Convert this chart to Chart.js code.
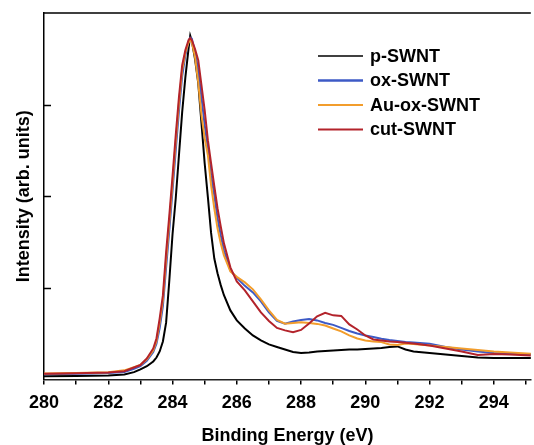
<!DOCTYPE html>
<html>
<head>
<meta charset="utf-8">
<script src="https://cdn.jsdelivr.net/npm/chart.js@4.4.1/dist/chart.umd.min.js"></script>
<style>
  html, body { margin: 0; padding: 0; background: #fff; }
  #wrap { width: 534px; height: 445px; position: relative; }
</style>
</head>
<body>
<div id="wrap"><canvas id="xps"></canvas></div>
<script>
// C 1s XPS spectra
const energy = [280, 281, 282, 282.5, 282.8, 283.0, 283.2, 283.4, 283.5, 283.6,
  283.7, 283.8, 283.9, 284.0, 284.1, 284.2, 284.3, 284.4, 284.5, 284.55,
  284.6, 284.7, 284.8, 284.9, 285.0, 285.1, 285.2, 285.3, 285.4, 285.5,
  285.6, 285.8, 286.0, 286.25, 286.5, 286.75, 287.0, 287.25, 287.5, 287.75,
  288.0, 288.25, 288.5, 288.75, 289.0, 289.25, 289.5, 289.75, 290.0, 290.25,
  290.5, 290.75, 291.0, 291.25, 291.5, 292.0, 292.5, 293.0, 293.5, 294.0,
  294.5, 295.2];

const pSWNT = [0.036, 0.038, 0.044, 0.055, 0.08, 0.11, 0.145, 0.197, 0.24, 0.306,
  0.415, 0.62, 1.08, 1.585, 1.978, 2.448, 2.918, 3.30, 3.617, 3.752,
  3.694, 3.497, 3.235, 2.80, 2.36, 1.99, 1.60, 1.32, 1.16, 1.03,
  0.92, 0.754, 0.645, 0.557, 0.481, 0.426, 0.383, 0.355, 0.328, 0.30,
  0.29, 0.295, 0.306, 0.311, 0.317, 0.322, 0.328, 0.328, 0.333, 0.339,
  0.344, 0.355, 0.361, 0.328, 0.306, 0.29, 0.273, 0.257, 0.24, 0.235,
  0.235, 0.235];

const oxSWNT = [0.058, 0.062, 0.07, 0.082, 0.118, 0.145, 0.205, 0.30, 0.39, 0.56,
  0.80, 1.22, 1.63, 2.06, 2.50, 2.93, 3.31, 3.54, 3.69, 3.73,
  3.72, 3.574, 3.377, 3.082, 2.776, 2.525, 2.23, 2.011, 1.76, 1.574,
  1.41, 1.19, 1.109, 1.022, 0.951, 0.852, 0.732, 0.639, 0.609, 0.634,
  0.65, 0.661, 0.645, 0.617, 0.596, 0.563, 0.53, 0.503, 0.481, 0.464,
  0.445, 0.432, 0.421, 0.41, 0.404, 0.39, 0.355, 0.328, 0.306, 0.29,
  0.281, 0.279];

const auOxSWNT = [0.065, 0.07, 0.08, 0.10, 0.135, 0.16, 0.22, 0.32, 0.42, 0.62,
  0.87, 1.31, 1.72, 2.15, 2.60, 3.02, 3.38, 3.57, 3.68, 3.70,
  3.683, 3.519, 3.246, 2.885, 2.634, 2.448, 2.12, 1.869, 1.65, 1.486,
  1.355, 1.18, 1.12, 1.06, 0.984, 0.874, 0.754, 0.65, 0.609, 0.617,
  0.626, 0.617, 0.607, 0.59, 0.557, 0.525, 0.481, 0.448, 0.426, 0.415,
  0.408, 0.383, 0.377, 0.393, 0.388, 0.372, 0.355, 0.339, 0.322, 0.306,
  0.295, 0.281];

const cutSWNT = [0.062, 0.067, 0.076, 0.09, 0.131, 0.158, 0.23, 0.339, 0.448, 0.667,
  0.918, 1.388, 1.792, 2.219, 2.667, 3.082, 3.432, 3.596, 3.705, 3.727,
  3.705, 3.607, 3.486, 3.213, 2.94, 2.612, 2.36, 2.109, 1.869, 1.672,
  1.486, 1.224, 1.071, 0.973, 0.852, 0.732, 0.639, 0.563, 0.536, 0.517,
  0.541, 0.612, 0.689, 0.727, 0.70, 0.694, 0.601, 0.546, 0.481, 0.437,
  0.426, 0.415, 0.408, 0.401, 0.393, 0.372, 0.339, 0.306, 0.268, 0.279,
  0.273, 0.262];

const xTicks = [280, 282, 284, 286, 288, 290, 292, 294];
const yTicks = [1, 2, 3];

const FONT = '"Liberation Sans", Arial, Helvetica, sans-serif';

function pts(ys) {
  return energy.map((e, i) => ({ x: e, y: ys[i] }));
}

// legend drawn inside the plot area
const insideLegend = {
  id: 'insideLegend',
  afterDatasetsDraw(chart) {
    const ctx = chart.ctx;
    ctx.save();
    ctx.font = 'bold 18px ' + FONT;
    ctx.textBaseline = 'middle';
    ctx.fillStyle = '#000';
    chart.data.datasets.forEach((ds, i) => {
      const y = 56 + i * 24.5;
      ctx.strokeStyle = ds.borderColor;
      ctx.lineWidth = ds.legendLine;
      ctx.beginPath();
      ctx.moveTo(318, y);
      ctx.lineTo(363, y);
      ctx.stroke();
      ctx.fillText(ds.label, 370, y + 1);
    });
    ctx.restore();
  }
};

// top border + inward y ticks
const frame = {
  id: 'frame',
  afterDraw(chart) {
    const { ctx, chartArea } = chart;
    const ys = chart.scales.y;
    ctx.save();
    ctx.strokeStyle = '#000';
    ctx.lineWidth = 1.5;
    ctx.beginPath();
    ctx.moveTo(chartArea.left, chartArea.top);
    ctx.lineTo(chartArea.right, chartArea.top);
    yTicks.forEach(v => {
      const y = Math.round(ys.getPixelForValue(v)) + 0.5;
      ctx.moveTo(chartArea.left, y);
      ctx.lineTo(chartArea.left + 7, y);
    });
    ctx.stroke();
    ctx.restore();
  }
};

new Chart(document.getElementById('xps'), {
  type: 'line',
  data: {
    datasets: [
      { label: 'p-SWNT', data: pts(pSWNT), borderColor: '#000000', borderWidth: 2, legendLine: 1.4, order: 3 },
      { label: 'ox-SWNT', data: pts(oxSWNT), borderColor: '#3d5ac6', borderWidth: 2, legendLine: 2.6, order: 2 },
      { label: 'Au-ox-SWNT', data: pts(auOxSWNT), borderColor: '#f29d2c', borderWidth: 2, legendLine: 1.8, order: 1 },
      { label: 'cut-SWNT', data: pts(cutSWNT), borderColor: '#b3232b', borderWidth: 2, legendLine: 2.2, order: 0 },
    ],
  },
  options: {
    responsive: true,
    maintainAspectRatio: false,
    animation: false,
    layout: { padding: { top: 13, right: 0, bottom: 0, left: 0 } },
    elements: { point: { radius: 0 }, line: { tension: 0, fill: false } },
    plugins: {
      legend: { display: false },
      tooltip: { enabled: false },
    },
    scales: {
      x: {
        type: 'linear',
        min: 280,
        max: 295.15,
        afterFit(scale) { scale.height = 65.5; },
        ticks: {
          stepSize: 1,
          autoSkip: false,
          includeBounds: false,
          maxRotation: 0,
          padding: 8,
          color: '#000',
          font: { family: FONT, size: 18, weight: 'bold' },
          callback: v => (xTicks.includes(v) ? String(v) : ''),
        },
        grid: { drawOnChartArea: false, drawTicks: true, tickLength: 5, color: '#000', lineWidth: 1.5 },
        border: { display: true, color: '#222', width: 1.5 },
        title: {
          display: true,
          text: 'Binding Energy (eV)',
          color: '#000',
          padding: { top: 0, bottom: 0 },
          font: { family: FONT, size: 18, weight: 'bold', lineHeight: 1 },
        },
      },
      y: {
        min: 0,
        max: 4,
        afterFit(scale) { scale.width = 44; },
        ticks: { display: false, stepSize: 1 },
        grid: { display: false },
        border: { display: true, color: '#000', width: 1.5 },
        title: {
          display: true,
          text: 'Intensity (arb. units)',
          color: '#000',
          padding: { top: 15, bottom: 0 },
          font: { family: FONT, size: 18, weight: 'bold', lineHeight: 1 },
        },
      },
    },
  },
  plugins: [insideLegend, frame],
});
</script>
</body>
</html>
